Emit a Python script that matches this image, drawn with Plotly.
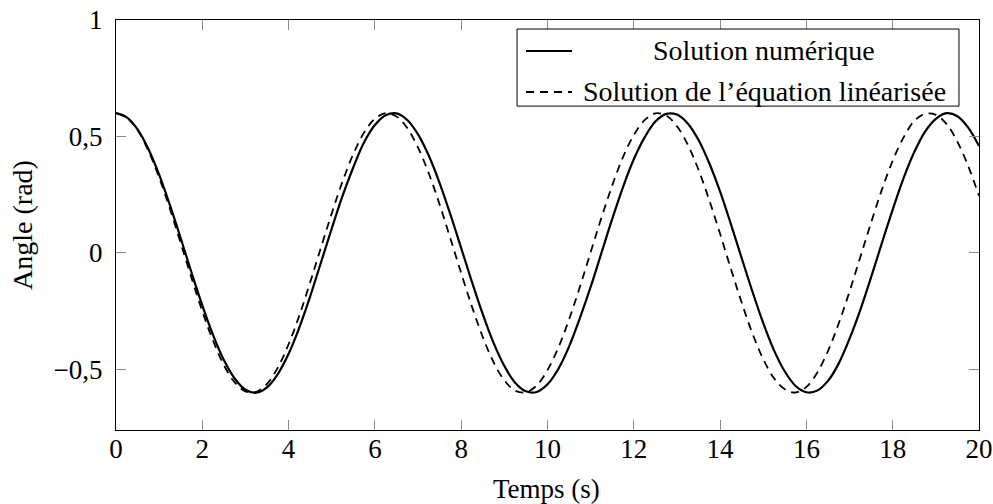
import plotly.graph_objects as go

# Time (s)
temps = [0.0, 0.25, 0.5, 0.75, 1.0, 1.25, 1.5, 1.75, 2.0, 2.25, 2.5, 2.75, 3.0, 3.25, 3.5, 3.75,
         4.0, 4.25, 4.5, 4.75, 5.0, 5.25, 5.5, 5.75, 6.0, 6.25, 6.5, 6.75, 7.0, 7.25, 7.5, 7.75,
         8.0, 8.25, 8.5, 8.75, 9.0, 9.25, 9.5, 9.75, 10.0, 10.25, 10.5, 10.75, 11.0, 11.25,
         11.5, 11.75, 12.0, 12.25, 12.5, 12.75, 13.0, 13.25, 13.5, 13.75, 14.0, 14.25, 14.5,
         14.75, 15.0, 15.25, 15.5, 15.75, 16.0, 16.25, 16.5, 16.75, 17.0, 17.25, 17.5, 17.75,
         18.0, 18.25, 18.5, 18.75, 19.0, 19.25, 19.5, 19.75, 20.0]

# Numerical solution (solid)
angle_numerique = [0.600, 0.582, 0.530, 0.446, 0.336, 0.205, 0.063, -0.084, -0.225, -0.353,
                   -0.460, -0.539, -0.587, -0.600, -0.577, -0.520, -0.433, -0.319, -0.186,
                   -0.041, 0.105, 0.245, 0.368, 0.475, 0.549, 0.591, 0.599, 0.571, 0.509,
                   0.417, 0.300, 0.165, 0.021, -0.125, -0.263, -0.386, -0.485, -0.557, -0.594,
                   -0.597, -0.564, -0.498, -0.402, -0.280, -0.146, 0.000, 0.146, 0.283, 0.402,
                   0.496, 0.564, 0.597, 0.594, 0.556, 0.485, 0.385, 0.263, 0.124, -0.022,
                   -0.166, -0.301, -0.418, -0.509, -0.571, -0.598, -0.591, -0.549, -0.474,
                   -0.368, -0.244, -0.104, 0.043, 0.186, 0.320, 0.433, 0.521, 0.576, 0.600,
                   0.587, 0.538, 0.459]

# Linearised equation solution (dashed)
angle_lineaire = [0.600, 0.581, 0.527, 0.439, 0.324, 0.189, 0.042, -0.107, -0.250, -0.377,
                  -0.481, -0.555, -0.594, -0.596, -0.562, -0.492, -0.392, -0.268, -0.126,
                  0.023, 0.170, 0.307, 0.425, 0.517, 0.576, 0.600, 0.586, 0.536, 0.452,
                  0.341, 0.208, 0.062, -0.087, -0.231, -0.361, -0.469, -0.547, -0.591, -0.598,
                  -0.569, -0.503, -0.407, -0.285, -0.146, 0.003, 0.151, 0.290, 0.412, 0.506,
                  0.570, 0.599, 0.590, 0.544, 0.465, 0.357, 0.226, 0.082, -0.068, -0.213,
                  -0.346, -0.456, -0.538, -0.585, -0.599, -0.575, -0.514, -0.421, -0.302,
                  -0.165, -0.017, 0.131, 0.272, 0.396, 0.495, 0.567, 0.597, 0.593, 0.553,
                  0.477, 0.373, 0.245]

x_ticks = [0, 2, 4, 6, 8, 10, 12, 14, 16, 18, 20]
x_ticklabels = [str(v) for v in x_ticks]
y_ticks = [-0.5, 0, 0.5, 1]
y_ticklabels = ["\u22120,5", "0", "0,5", "1"]

legend_labels = ["Solution numérique", "Solution de l\u2019équation linéarisée"]

FONT = "Liberation Serif"
FS = 27
FS_LEG = 28

fig = go.Figure()
fig.add_trace(go.Scatter(x=temps, y=angle_numerique, mode="lines", name=legend_labels[0],
                         line=dict(color="black", width=2.2, shape="spline")))
fig.add_trace(go.Scatter(x=temps, y=angle_lineaire, mode="lines", name=legend_labels[1],
                         line=dict(color="black", width=1.8, shape="spline", dash="8px,6px")))

axis_common = dict(showline=True, linecolor="black", linewidth=1.2, mirror="allticks",
                   ticks="inside", ticklen=10, tickcolor="#8a8a8a", tickwidth=1,
                   showgrid=False, zeroline=False, automargin=False,
                   tickfont=dict(family=FONT, size=FS, color="black"))

fig.update_xaxes(range=[0, 20], tickvals=x_ticks, ticktext=x_ticklabels,
                 ticklabelstandoff=-6, **axis_common)
fig.update_yaxes(range=[-0.76, 1], tickvals=y_ticks, ticktext=y_ticklabels,
                 ticklabelstandoff=7, **axis_common)

# Legend box (manual, centred text like pgfplots)
x0, x1 = 0.4647, 0.9768
y0, y1 = 0.790, 0.978
fig.add_shape(type="rect", xref="paper", yref="paper", x0=x0, x1=x1, y0=y0, y1=y1,
              line=dict(color="black", width=1), fillcolor="white", layer="above")
rows = [0.9244, 0.8244]
styles = ["solid", "8px,6px"]
for ry, st, lab in zip(rows, styles, legend_labels):
    fig.add_shape(type="line", xref="paper", yref="paper", x0=0.4751, x1=0.5284, y0=ry, y1=ry,
                  line=dict(color="black", width=2.2 if st == "solid" else 1.8, dash=st),
                  layer="above")
    fig.add_annotation(xref="paper", yref="paper", x=0.7509, y=ry, text=lab, showarrow=False,
                       xanchor="center", yanchor="middle",
                       font=dict(family=FONT, size=FS_LEG, color="black"))

# Axis titles
fig.add_annotation(xref="paper", yref="paper", x=0.4986, y=-0.145, text="Temps (s)",
                   showarrow=False, xanchor="center", yanchor="middle",
                   font=dict(family=FONT, size=FS, color="black"))
fig.add_annotation(xref="paper", yref="paper", x=-0.109, y=0.5,
                   text="Angle (rad)", textangle=-90, showarrow=False,
                   xanchor="center", yanchor="middle",
                   font=dict(family=FONT, size=FS_LEG, color="black"))

fig.update_layout(width=993, height=504, margin=dict(l=116, r=14, t=20, b=74),
                  plot_bgcolor="white", paper_bgcolor="white", showlegend=False)

fig.write_html("out.html")
